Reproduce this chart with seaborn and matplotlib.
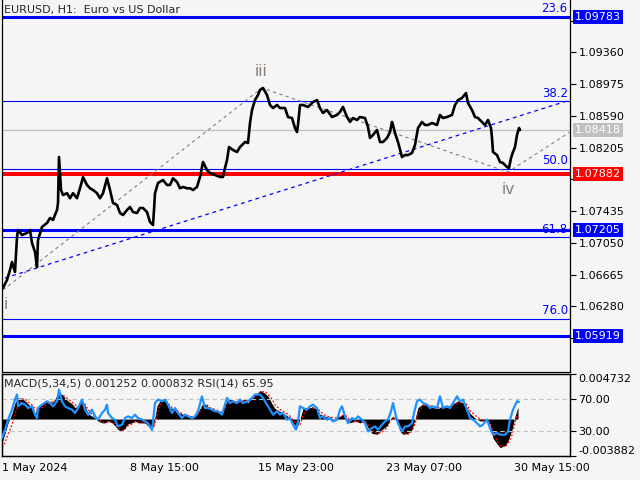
import matplotlib

matplotlib.use("Agg")
import matplotlib.pyplot as plt
import matplotlib.transforms as mtransforms
import seaborn as sns


# ------------------------------------------------------
# Data (bar index = pixel column of the bar)
# ------------------------------------------------------
TITLE = "EURUSD, H1:  Euro vs US Dollar"
INDICATOR_LABEL = "MACD(5,34,5) 0.001252 0.000832 RSI(14) 65.95"

price_bars = [
    3, 7, 10, 12, 15, 17, 18, 22, 27, 30, 32, 35, 37, 38, 42, 47, 50, 53, 57, 58,
    59, 61, 63, 67, 70, 73, 77, 80, 83, 87, 90, 93, 97, 100, 103, 107, 110, 113, 117, 120,
    123, 127, 130, 133, 137, 140, 143, 147, 150, 153, 154, 155, 158, 163, 167, 170, 173, 177, 180, 183,
    187, 190, 193, 197, 200, 203, 207, 210, 215, 220, 223, 225, 227, 229, 233, 237, 240, 245, 248, 250,
    252, 255, 258, 260, 263, 267, 270, 273, 277, 280, 285, 288, 292, 295, 297, 298, 300, 303, 308, 313,
    317, 320, 323, 327, 332, 337, 340, 343, 347, 350, 353, 357, 360, 365, 368, 370, 373, 377, 380, 383,
    387, 390, 392, 393, 395, 398, 402, 405, 408, 412, 415, 418, 422, 425, 428, 432, 437, 440, 443, 447,
    452, 455, 458, 462, 466, 468, 472, 475, 478, 482, 485, 488, 491, 492, 493, 497, 500, 503, 507, 509,
    511, 513, 515, 517, 519, 520,
]
price_close = [
    1.06502, 1.06599, 1.06720, 1.06817, 1.06696, 1.07120, 1.07205, 1.07144, 1.07169, 1.07205,
    1.07047, 1.06938, 1.06756, 1.07084, 1.07242, 1.07290, 1.07351, 1.07327, 1.07447, 1.07532,
    1.08090, 1.07690, 1.07629, 1.07651, 1.07590, 1.07651, 1.07590, 1.07711, 1.07845, 1.07751,
    1.07711, 1.07690, 1.07651, 1.07590, 1.07651, 1.07832, 1.07690, 1.07532, 1.07508, 1.07411,
    1.07387, 1.07447, 1.07484, 1.07423, 1.07411, 1.07472, 1.07472, 1.07423, 1.07302, 1.07266,
    1.07447, 1.07651, 1.07775, 1.07811, 1.07751, 1.07751, 1.07832, 1.07787, 1.07711, 1.07727,
    1.07711, 1.07711, 1.07690, 1.07727, 1.07848, 1.08030, 1.07933, 1.07896, 1.07872, 1.07848,
    1.07848, 1.07957, 1.08054, 1.08211, 1.08175, 1.08151, 1.08211, 1.08272, 1.08260, 1.08502,
    1.08660, 1.08781, 1.08842, 1.08903, 1.08927, 1.08842, 1.08721, 1.08684, 1.08721, 1.08684,
    1.08684, 1.08575, 1.08563, 1.08442, 1.08393, 1.08478, 1.08721, 1.08721, 1.08697, 1.08757,
    1.08781, 1.08684, 1.08624, 1.08660, 1.08575, 1.08600, 1.08636, 1.08697, 1.08575, 1.08515,
    1.08563, 1.08539, 1.08575, 1.08563, 1.08454, 1.08321, 1.08357, 1.08418, 1.08272, 1.08272,
    1.08321, 1.08393, 1.08515, 1.08478, 1.08381, 1.08272, 1.08090, 1.08114, 1.08114, 1.08139,
    1.08236, 1.08442, 1.08515, 1.08478, 1.08478, 1.08503, 1.08478, 1.08600, 1.08563, 1.08575,
    1.08600, 1.08721, 1.08781, 1.08806, 1.08866, 1.08745, 1.08660, 1.08575, 1.08563, 1.08515,
    1.08478, 1.08539, 1.08442, 1.08321, 1.08151, 1.08114, 1.08030, 1.08017, 1.07969, 1.07957,
    1.08078, 1.08151, 1.08211, 1.08357, 1.08442, 1.08418,
]

macd_bars = [
    2, 5, 8, 12, 15, 18, 22, 25, 28, 32, 35, 38, 42, 47, 52, 55, 58, 62, 65, 68,
    72, 75, 78, 82, 85, 88, 92, 95, 98, 102, 105, 108, 112, 115, 118, 122, 125, 128, 132, 135,
    138, 142, 145, 148, 152, 154, 157, 160, 163, 167, 170, 173, 177, 180, 183, 187, 190, 193, 197, 200,
    203, 207, 210, 213, 217, 220, 223, 227, 230, 233, 237, 240, 245, 248, 252, 257,
    260, 265, 268, 272, 275, 280, 285, 290, 293, 297, 300, 303, 308, 313, 317, 320, 325, 330, 335, 340,
    343, 347, 350, 355, 360, 365, 368, 372, 377, 382, 387, 390, 393, 397, 400, 403, 408, 412, 415, 418,
    423, 428, 433, 438, 443, 448, 453, 458, 463, 467, 470, 475, 480, 485, 490, 493, 497, 500, 505, 508,
    512, 515, 518,
]
macd_main = [
    -0.0025, -0.0015, -0.0004, 0.0006, 0.0017, 0.0022, 0.0022, 0.0019, 0.0016, 0.0012,
    0.0006, 0.0012, 0.0017, 0.0019, 0.0017, 0.0021, 0.0027, 0.0026, 0.0022, 0.0019,
    0.0016, 0.0012, 0.0014, 0.0019, 0.0014, 0.0006, 0.0003, 0.0001, -0.0002, -0.0004,
    -0.0004, -0.0002, -0.0004, -0.0007, -0.0011, -0.0013, -0.0009, -0.0005, -0.0004, -0.0002,
    -0.0004, -0.0004, -0.0004, -0.0007, -0.0011, -0.0004, 0.0014, 0.0019, 0.0021, 0.0017,
    0.0012, 0.0011, 0.0008, 0.0006, 0.0005, 0.0003, 0.0003, 0.0001, 0.0005, 0.0011,
    0.0017, 0.0014, 0.0011, 0.0011, 0.0008, 0.0006, 0.0011, 0.0019, 0.0021, 0.0019,
    0.0017, 0.0019, 0.0021, 0.0017, 0.0024, 0.0027,
    0.0030, 0.0027, 0.0024, 0.0016, 0.0011, 0.0008, 0.0005, 0.0001, -0.0004, -0.0009,
    0.0000, 0.0011, 0.0012, 0.0012, 0.0011, 0.0005, 0.0003, 0.0001, 0.0000, 0.0003,
    0.0005, 0.0000, -0.0004, -0.0002, -0.0004, -0.0002, -0.0009, -0.0015, -0.0016, -0.0011,
    -0.0007, 0.0000, 0.0003, -0.0002, -0.0013, -0.0016, -0.0015, -0.0011, 0.0000, 0.0012,
    0.0016, 0.0014, 0.0012, 0.0011, 0.0014, 0.0012, 0.0016, 0.0019, 0.0017, 0.0012,
    0.0006, 0.0001, -0.0002, -0.0002, -0.0005, -0.0020, -0.0026, -0.0030, -0.0028, -0.0023,
    -0.0011, 0.0003, 0.00125,
]
macd_signal = [
    -0.0030, -0.0025, -0.0016, -0.0006, 0.0005, 0.0015, 0.0021, 0.0021, 0.0018, 0.0015,
    0.0011, 0.0008, 0.0012, 0.0016, 0.0018, 0.0018, 0.0022, 0.0025, 0.0024, 0.0021,
    0.0018, 0.0015, 0.0013, 0.0016, 0.0016, 0.0010, 0.0005, 0.0002, 0.0000, -0.0003,
    -0.0004, -0.0003, -0.0003, -0.0005, -0.0009, -0.0012, -0.0011, -0.0007, -0.0005, -0.0003,
    -0.0003, -0.0004, -0.0004, -0.0006, -0.0009, -0.0008, 0.0004, 0.0015, 0.0019, 0.0018,
    0.0014, 0.0011, 0.0009, 0.0007, 0.0005, 0.0004, 0.0003, 0.0002, 0.0003, 0.0008,
    0.0014, 0.0015, 0.0012, 0.0011, 0.0009, 0.0007, 0.0009, 0.0015, 0.0020, 0.0019,
    0.0018, 0.0018, 0.0020, 0.0019, 0.0021, 0.0025,
    0.0028, 0.0029, 0.0026, 0.0021, 0.0015, 0.0010, 0.0007, 0.0003, -0.0001, -0.0006,
    -0.0006, 0.0004, 0.0011, 0.0012, 0.0012, 0.0008, 0.0004, 0.0002, 0.0001, 0.0002,
    0.0004, 0.0003, -0.0002, -0.0003, -0.0003, -0.0003, -0.0006, -0.0012, -0.0015, -0.0014,
    -0.0009, -0.0003, 0.0001, 0.0000, -0.0008, -0.0014, -0.0016, -0.0013, -0.0005, 0.0006,
    0.0014, 0.0015, 0.0013, 0.0012, 0.0012, 0.0013, 0.0014, 0.0017, 0.0018, 0.0015,
    0.0009, 0.0004, 0.0000, -0.0002, -0.0003, -0.0013, -0.0023, -0.0028, -0.0029, -0.0026,
    -0.0017, -0.0004, 0.00083,
]

rsi_bars = [
    2, 5, 8, 12, 15, 17, 18, 22, 25, 28, 32, 35, 37, 38, 42, 47, 50, 53, 57, 59,
    62, 65, 68, 72, 75, 78, 82, 85, 88, 92, 95, 98, 102, 105, 107, 108, 112, 115, 118, 122,
    125, 128, 132, 135, 138, 142, 145, 148, 152, 153, 155, 158, 162, 165, 168, 172, 175, 178, 182, 185,
    188, 192, 195, 198, 202, 205, 208, 212, 215, 218, 222, 223, 227, 230, 233, 237, 240, 243, 248, 252,
    255, 260, 263, 267, 270, 273, 277, 280, 283, 287, 290, 293, 296, 298, 300, 303, 307, 310, 313, 317,
    320, 323, 327, 330, 333, 337, 340, 342, 345, 348, 352, 355, 358, 362, 365, 368, 372, 375, 378, 382,
    385, 388, 391, 393, 396, 398, 402, 405, 408, 412, 414, 417, 420, 423, 427, 430, 433, 437, 440, 443,
    447, 450, 453, 457, 460, 463, 467, 470, 473, 477, 480, 483, 487, 490, 493, 497, 500, 505, 508, 510,
    513, 517, 519,
]
rsi_values = [
    21.8, 32, 44, 56.5, 69, 75, 60.6, 64.6, 62.6, 58.5, 60.6, 50.4, 46.3, 58.5, 62.6, 66.7, 64.6, 60.6, 66.7, 81,
    66.7, 60.6, 58.5, 56.5, 52.4, 58.5, 68.8, 56.5, 50.4, 56.5, 48.3, 44.3, 52.4, 56.5, 62.6, 52.4, 46.3, 44.3, 36.1, 38.2,
    46.3, 48.3, 46.3, 50.4, 46.3, 44.3, 42.2, 40.1, 32, 42.2, 64.6, 68.8, 66.7, 68.8, 62.6, 52.4, 58.5, 52.4, 46.3, 50.4,
    48.3, 46.3, 48.3, 54.5, 72.8, 58.5, 58.5, 56.5, 54.5, 54.5, 50.4, 54.5, 70.8, 64.6, 66.7, 64.6, 68.8, 64.6, 66.7, 70.8,
    75, 75, 70.8, 62.6, 56.5, 50.4, 54.5, 50.4, 52.4, 44.3, 46.3, 38.2, 32, 42.2, 60.6, 58.5, 56.5, 60.6, 62.6, 58.5,
    46.3, 48.3, 44.3, 46.3, 42.2, 44.3, 56.5, 60.6, 48.3, 40.1, 46.3, 44.3, 48.3, 44.3, 40.1, 30, 34, 36.1, 32, 38.2,
    42.2, 44.3, 54.5, 64.6, 48.3, 40.1, 30, 36.1, 36.1, 40.1, 52.4, 66.7, 68.8, 64.6, 62.6, 58.5, 60.6, 58.5, 72.8, 58.5,
    60.6, 58.5, 64.6, 72.8, 66.7, 68.8, 56.5, 46.3, 44.3, 40.1, 36.1, 38.2, 44.3, 34, 26, 28, 26, 26, 30, 44.3,
    56.5, 66.7, 65.95,
]

time_ticks = [2, 130, 258, 386, 514]
time_labels = ["1 May 2024", "8 May 15:00", "15 May 23:00", "23 May 07:00", "30 May 15:00"]

price_ticks = [1.09745, 1.09360, 1.08975, 1.08590, 1.08205, 1.07820,
               1.07435, 1.07050, 1.06665, 1.06280, 1.05895]
# scale labels that sit under the coloured level boxes
covered_ticks = [1.09745, 1.07820, 1.05895]
price_range = (1.05483, 1.09994)

# marked horizontal levels and their boxes on the price scale
level_prices = [1.09783, 1.07882, 1.07205, 1.05919]
level_colors = ["#0000ff", "#ff0000", "#0000ff", "#0000ff"]
bid_price = 1.08418

fib_names = ["23.6", "38.2", "50.0", "61.8", "76.0"]
fib_prices = [1.09790, 1.08769, 1.07945, 1.07120, 1.06126]

# wave pivots: i, iii, iv, and the right edge of the chart
pivot_bars = [3, 262, 508, 570]
pivot_prices = [1.06478, 1.08927, 1.07908, 1.08393]
trend_bars = [5, 570]
trend_prices = [1.06623, 1.08781]

wave_names = ["i", "iii", "iv"]
wave_bars = [6, 261, 508]
wave_prices = [1.06296, 1.09121, 1.07690]

rsi_levels = [70, 30]
macd_range = (-0.003882, 0.004732)

BG = "#f5f5f5"


def main():
    sns.set_theme(style="white")
    plt.rcParams.update(
        {
            "figure.facecolor": BG,
            "axes.facecolor": BG,
            "axes.edgecolor": "black",
            "axes.linewidth": 0.9,
            "xtick.color": "black",
            "ytick.color": "black",
            "font.size": 8,
        }
    )
    plt.rcParams["font.family"] = ["DejaVu Sans"]

    fig = plt.figure(figsize=(6.4, 4.8), dpi=100)
    ax = fig.add_axes([2 / 640, 1 - 372 / 480, 568 / 640, 372 / 480])
    ax_sub = fig.add_axes([2 / 640, 1 - 456 / 480, 568 / 640, 82 / 480], sharex=ax)

    # ---------------- price panel ----------------
    for p, c in zip(level_prices, level_colors):
        ax.axhline(p, color=c, lw=2.9 if c == "#ff0000" else 2.2, zorder=2)
    ax.axhline(bid_price, color="#c0c0c0", lw=0.9, zorder=1)
    for p in fib_prices:
        ax.axhline(p, color="#0000ff", lw=0.8, zorder=2)

    blend = mtransforms.blended_transform_factory(ax.transAxes, ax.transData)
    for name, p in zip(fib_names, fib_prices):
        ax.text(0.996, p + 0.00018, name, transform=blend, ha="right", va="bottom",
                color="#0000ff", fontsize=8.5, zorder=6)

    ax.plot(pivot_bars, pivot_prices, color="#808080", lw=0.8, ls=(0, (3, 3)), zorder=3)
    ax.plot(trend_bars, trend_prices, color="#0000ff", lw=0.9, ls=(0, (3, 3)), zorder=3)

    sns.lineplot(x=price_bars, y=price_close, ax=ax, color="black", lw=1.9,
                 sort=False, estimator=None, zorder=4)

    for name, b, p in zip(wave_names, wave_bars, wave_prices):
        ax.text(b, p, name, ha="center", va="center", color="#857b73", fontsize=11)

    ax.text(0.0035, 0.972, TITLE, transform=ax.transAxes, ha="left", va="center", fontsize=8)

    ax.set_xlim(2, 570)
    ax.set_ylim(*price_range)
    ax.yaxis.tick_right()
    ax.set_yticks(price_ticks)
    ax.set_yticklabels(["" if v in covered_ticks else f"{v:.5f}" for v in price_ticks])
    ax.tick_params(axis="y", direction="out", length=4, width=0.8, pad=2, labelsize=8)
    ax.tick_params(axis="x", bottom=False, labelbottom=False)
    ax.spines["top"].set_visible(False)

    for p, c in zip(level_prices + [bid_price], level_colors + ["#c0c0c0"]):
        ax.text(1.009, p, f"{p:.5f}", transform=blend, ha="left", va="center",
                color="white", fontsize=8, zorder=10, clip_on=False,
                bbox=dict(boxstyle="square,pad=0.18", fc=c, ec="none"))

    # ---------------- MACD / RSI panel ----------------
    ax_sub.fill_between(macd_bars, macd_main, 0, color="black", lw=0, zorder=2)
    sns.lineplot(x=macd_bars, y=macd_signal, ax=ax_sub, color="#ff0000", lw=0.9,
                 ls=(0, (1.5, 1.5)), sort=False, estimator=None, zorder=3)
    ax_sub.set_ylim(*macd_range)

    ax_rsi = ax_sub.twinx()
    for lv in rsi_levels:
        ax_rsi.axhline(lv, color="#c0c0c0", lw=0.8, ls=(0, (4, 3)), zorder=1)
    sns.lineplot(x=rsi_bars, y=rsi_values, ax=ax_rsi, color="#1e90ff", lw=1.6,
                 sort=False, estimator=None, zorder=4)
    ax_rsi.set_ylim(0, 100)
    ax_rsi.set_yticks(rsi_levels)
    ax_rsi.set_yticklabels([f"{v:.2f}" for v in rsi_levels])
    ax_rsi.tick_params(axis="y", direction="out", length=4, width=0.8, pad=2, labelsize=8)
    ax_rsi.set_ylabel("")

    ax_sub.yaxis.tick_right()
    ax_sub.set_yticks(list(macd_range))
    labels = ax_sub.set_yticklabels([f"{v:.6f}" for v in macd_range])
    labels[0].set_va("bottom")
    labels[1].set_va("top")
    ax_sub.tick_params(axis="y", direction="out", length=4, width=0.8, pad=2, labelsize=8)
    ax_sub.set_ylabel("")

    ax_rsi.text(0.0035, 0.89, INDICATOR_LABEL, transform=ax_rsi.transAxes,
                ha="left", va="center", fontsize=8)

    ax_sub.set_xticks(time_ticks)
    ax_sub.set_xticklabels(time_labels, ha="left")
    ax_sub.tick_params(axis="x", direction="out", length=4, width=0.8, pad=1, labelsize=8)
    ax_sub.set_xlim(2, 570)

    fig.savefig("out.png", dpi=100, facecolor=BG)
    plt.close(fig)


if __name__ == "__main__":
    main()
